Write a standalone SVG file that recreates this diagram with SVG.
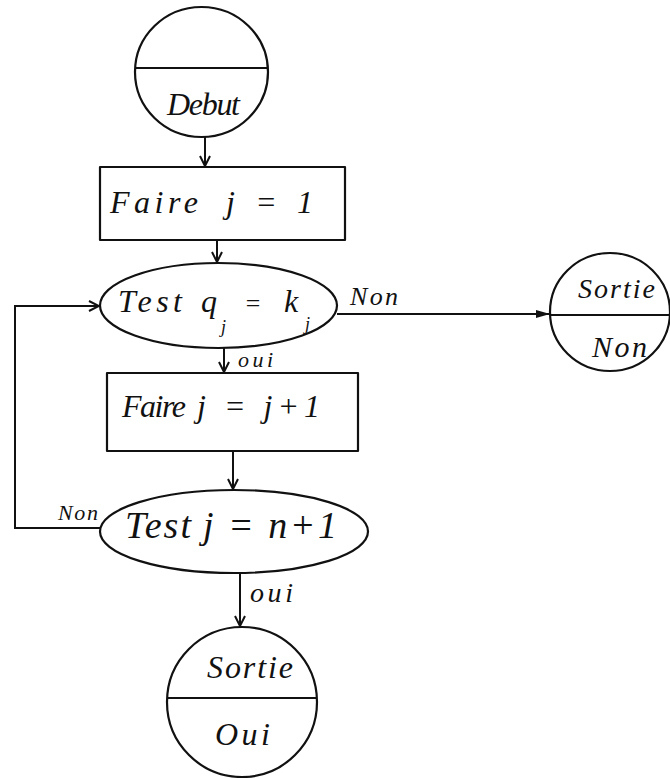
<svg xmlns="http://www.w3.org/2000/svg" width="670" height="778" viewBox="0 0 670 778">
<style>
.s{fill:none;stroke:#111;stroke-width:2.2;stroke-linecap:round;stroke-linejoin:round}
.t{font-family:"Liberation Serif","DejaVu Serif",serif;font-style:italic;font-weight:normal;fill:#111}
.c{fill:none;stroke:#111;stroke-width:2}
</style>
<defs>
<marker id="v" viewBox="0 0 12 12" refX="11" refY="6" markerWidth="12" markerHeight="12" markerUnits="userSpaceOnUse" orient="auto">
<polyline points="1,1 11,6 1,11" fill="none" stroke="#111" stroke-width="2"/>
</marker>
<marker id="f" viewBox="0 0 14 10" refX="13" refY="5" markerWidth="14" markerHeight="10" markerUnits="userSpaceOnUse" orient="auto">
<polygon points="0,1 14,5 0,9" fill="#111"/>
</marker>
</defs>
<rect width="670" height="778" fill="#fff"/>
<g id="debut">
<ellipse class="s" cx="201.5" cy="72" rx="66.5" ry="65"/>
<line class="s" x1="136" y1="68" x2="267" y2="68"/>
<text class="t" x="167" y="115" font-size="32" textLength="73" lengthAdjust="spacing">Debut</text>
</g>
<g id="faire1">
<rect class="s" x="100" y="167" width="245" height="73"/>
<text class="t" x="110" y="213" font-size="32"><tspan textLength="88" lengthAdjust="spacing">Faire</tspan><tspan x="226" textLength="87" lengthAdjust="spacing">j = 1</tspan></text>
</g>
<g id="test1">
<ellipse class="s" cx="218.5" cy="305.5" rx="118.5" ry="42.5"/>
<text class="t" x="118" y="312" font-size="32" textLength="64" lengthAdjust="spacing">Test</text>
<text class="t" x="201" y="312" font-size="32">q</text>
<text class="t" x="221" y="333" font-size="18">j</text>
<text class="t" x="244" y="312" font-size="26">=</text>
<text class="t" x="284" y="312" font-size="32">k</text>
<text class="t" x="305" y="330" font-size="18">j</text>
</g>
<g id="sortieNon">
<ellipse class="s" cx="610" cy="312" rx="60" ry="59"/>
<line class="s" x1="550" y1="315" x2="669" y2="315"/>
<text class="t" x="578" y="298" font-size="28" textLength="77" lengthAdjust="spacing">Sortie</text>
<text class="t" x="592" y="357" font-size="30" textLength="55" lengthAdjust="spacing">Non</text>
</g>
<g id="faire2">
<rect class="s" x="107" y="373" width="251" height="78"/>
<text class="t" x="122" y="417" font-size="32"><tspan textLength="64" lengthAdjust="spacing">Faire</tspan><tspan x="197" textLength="123" lengthAdjust="spacing">j = j+1</tspan></text>
</g>
<g id="test2">
<ellipse class="s" cx="234" cy="531.5" rx="134" ry="41.5"/>
<text class="t" x="125" y="538" font-size="38"><tspan textLength="66" lengthAdjust="spacing">Test</tspan><tspan x="203" textLength="134" lengthAdjust="spacing">j = n+1</tspan></text>
</g>
<g id="sortieOui">
<circle class="s" cx="242" cy="702" r="75"/>
<line class="s" x1="168" y1="698" x2="316" y2="698"/>
<text class="t" x="207" y="678" font-size="32" textLength="86" lengthAdjust="spacing">Sortie</text>
<text class="t" x="215" y="745" font-size="32" textLength="55" lengthAdjust="spacing">Oui</text>
</g>
<g id="connectors">
<line class="c" x1="205" y1="137" x2="205" y2="166" marker-end="url(#v)"/>
<line class="c" x1="217" y1="240" x2="217" y2="262" marker-end="url(#v)"/>
<line class="c" x1="224" y1="348" x2="224" y2="372" marker-end="url(#v)"/>
<line class="c" x1="337" y1="314" x2="549" y2="314" marker-end="url(#f)"/>
<line class="c" x1="233" y1="452" x2="233" y2="489" marker-end="url(#v)"/>
<line class="c" x1="240" y1="573" x2="240" y2="626" marker-end="url(#v)"/>
<polyline class="c" points="100,528 15,528 15,306 99,306" marker-end="url(#v)"/>
<text class="t" x="350" y="305" font-size="26" textLength="48" lengthAdjust="spacing">Non</text>
<text class="t" x="238" y="367" font-size="22" textLength="35" lengthAdjust="spacing">oui</text>
<text class="t" x="58" y="520" font-size="22" textLength="40" lengthAdjust="spacing">Non</text>
<text class="t" x="250" y="602" font-size="28" textLength="43" lengthAdjust="spacing">oui</text>
</g>
</svg>
